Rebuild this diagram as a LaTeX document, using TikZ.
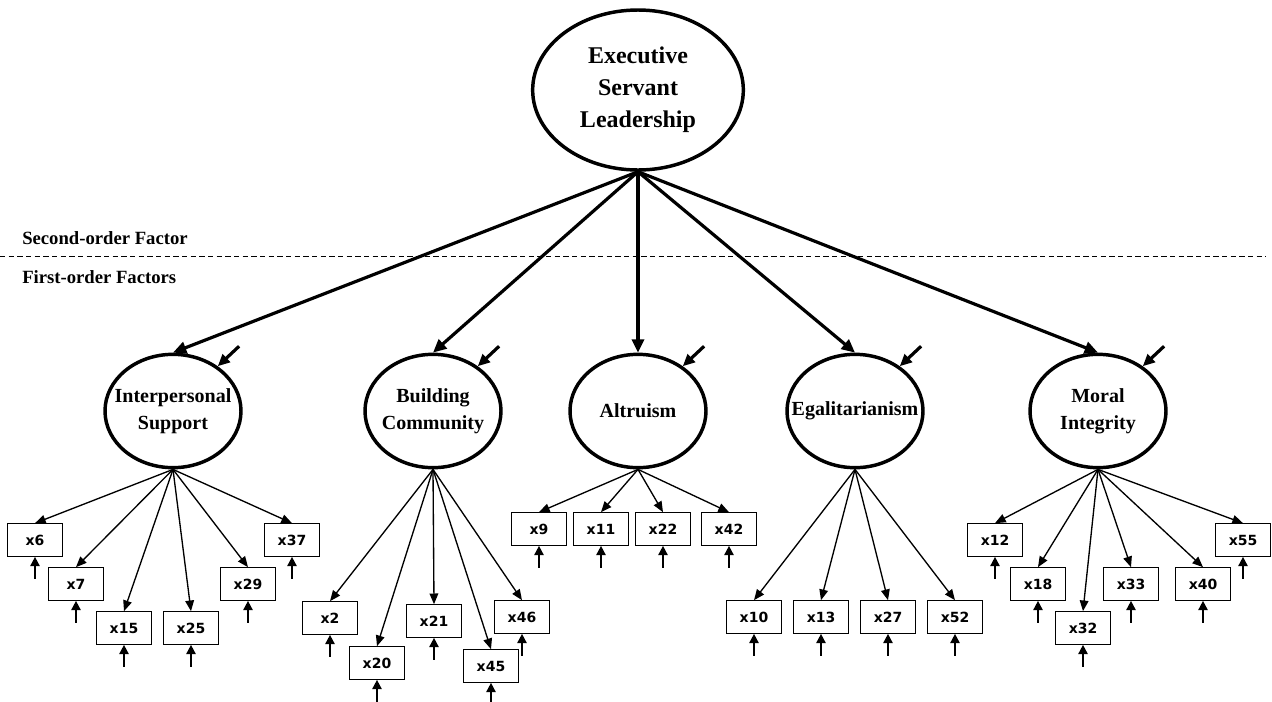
\documentclass[tikz,border=0pt]{standalone}
\usepackage{fontspec}
\setmainfont{Liberation Serif}
\newfontfamily\boxfont{DejaVu Sans}
\usepackage{tikz}
\usetikzlibrary{arrows.meta,positioning,shapes.geometric}

\begin{document}
\begin{tikzpicture}[x=0.75pt,y=-0.75pt,
    ltext/.style={align=center,inner sep=0pt,font=\fontsize{15}{20}\selectfont\bfseries},
    toptext/.style={align=center,inner sep=0pt,font=\fontsize{18}{24}\selectfont\bfseries},
    latent/.style={ellipse,draw,line width=2.6pt,minimum width=102pt,minimum height=85pt,
        inner sep=0pt,label={[ltext]center:#1}},
    toplatent/.style={ellipse,draw,line width=2.6pt,minimum width=158pt,minimum height=120pt,
        inner sep=0pt,label={[toptext]center:#1}},
    ind/.style={rectangle,draw,line width=0.75pt,minimum width=41pt,minimum height=24.5pt,
        inner sep=0pt,font=\boxfont\bfseries\fontsize{10.5}{12}\selectfont},
    order/.style={anchor=west,inner sep=0pt,font=\fontsize{14}{16}\selectfont\bfseries},
    path/.style={line width=2.4pt,-{Triangle[length=10pt,width=9pt]}},
    load/.style={line width=1pt,-{Triangle[length=8pt,width=6.5pt]}},
    err/.style={line width=1.3pt,-{Triangle[length=7pt,width=7pt]}},
    dist/.style={line width=2.4pt,-{Triangle[length=9pt,width=8pt]}}]
    \useasboundingbox (0,0) rectangle (1272,701);

    % Second-order factor
    \node[toplatent={Executive\\Servant\\Leadership}] (esl) at (638,90) {};

    % Level labels and divider
    \node[order] (so) at (22,238) {Second-order Factor};
    \node[order] (fo) at (22,277) {First-order Factors};
    \coordinate (dl) at (0,256);
    \coordinate (dr) at (1266,256);
    \draw[line width=0.7pt,dash pattern=on 4pt off 2.5pt] (dl) -- (dr);

    % First-order factors
    \node[latent={Interpersonal\\Support}] (ip) at (173,411) {};
    \node[latent={Building\\Community}] (bc) at (433,411) {};
    \node[latent={Altruism}] (al) at (638,411) {};
    \node[latent={Egalitarianism}] (eg) at (855,411) {};
    \node[latent={Moral\\Integrity}] (mi) at (1098,411) {};

    % Paths and disturbances
    \foreach \f in {ip,bc,al,eg,mi} {
        \draw[path] (esl.south) -- (\f.north);
        \draw[dist] ([shift={(16pt,15pt)}]\f.45) -- (\f.45);
    }

    % Indicators with their errors
    \foreach \n/\x/\y/\f in {6/35/540/ip,7/76/584/ip,15/124/628/ip,25/191/628/ip,29/248/584/ip,37/292/540/ip,
        2/330/618/bc,20/377/663/bc,21/434/621/bc,45/491/666/bc,46/522/617/bc,
        9/539/529/al,11/601/529/al,22/663/529/al,42/729/529/al,
        10/754/617/eg,13/821/617/eg,27/888/617/eg,52/955/617/eg,
        12/995/540/mi,18/1038/584/mi,32/1083/628/mi,33/1131/584/mi,40/1203/584/mi,55/1243/540/mi} {
        \node[ind] (x\n) at (\x,\y) {x\n};
        \draw[load] (\f.south) -- (x\n.north);
        \draw[err] ([yshift=-16.5pt]x\n.south) -- (x\n.south);
    }
\end{tikzpicture}
\end{document}
